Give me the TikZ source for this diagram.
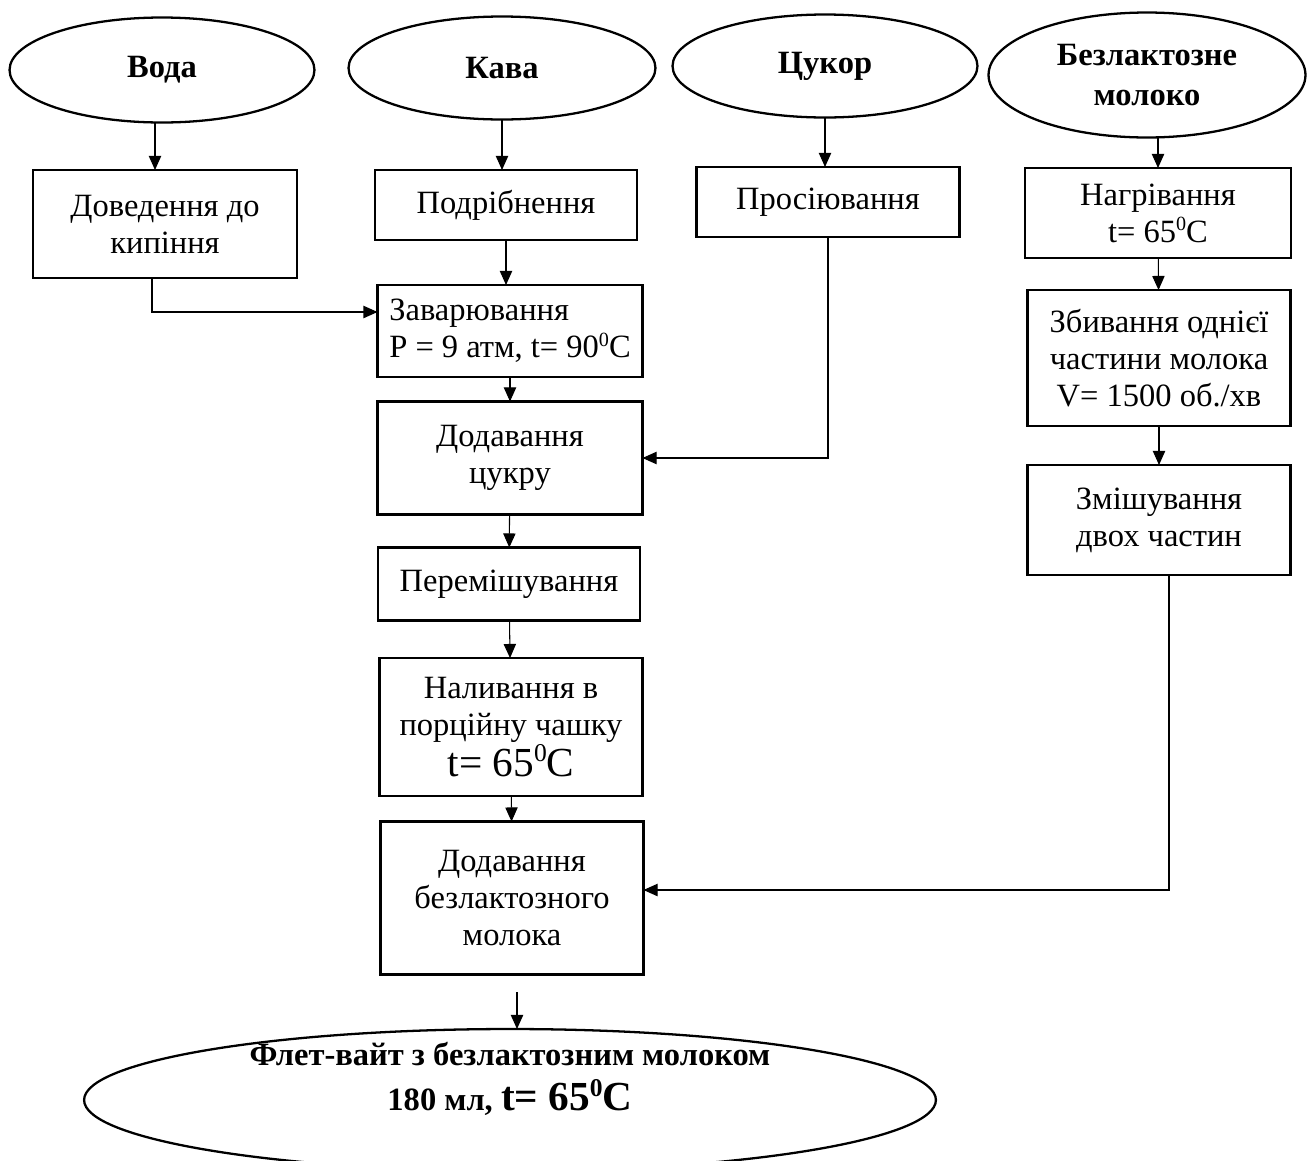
\documentclass[tikz,border=0pt]{standalone}
\usepackage{fontspec}
\setmainfont{Liberation Serif}
\usetikzlibrary{shapes.geometric,arrows.meta,calc}
\newcommand{\supz}{\raisebox{0.36em}{\scalebox{0.62}{0}}}
\newcommand{\bigt}{\fontsize{23.5}{26}\selectfont t= 65\supz C}
\begin{document}
\begin{tikzpicture}[x=0.02cm,y=-0.02cm,>={Triangle[length=8pt,width=7pt]},
box/.style = {draw, rectangle, line width=1.3pt, align=center, inner sep=0pt, outer sep=0pt, font=\fontsize{18.5}{21}\selectfont},
oval/.style = {draw, ellipse, line width=1.3pt, align=center, inner sep=0pt, outer sep=0pt, font=\fontsize{18.5}{23}\selectfont\bfseries},
link/.style = {->, line width=0.6pt},]
\useasboundingbox (0,0) rectangle (1308,1160);
\clip (0,0) rectangle (1308,1160);
\node (voda) at (162,70)[oval, minimum width=6.1cm, minimum height=2.1cm] {Вода};
\node (kava) at (502,68)[oval, minimum width=6.14cm, minimum height=2.06cm] {Кава};
\node (tsukor) at (825,66)[oval, minimum width=6.1cm, minimum height=2.06cm] {Цукор};
\node (moloko) at (1147,75)[oval, minimum width=6.34cm, minimum height=2.5cm] {Безлактозне\\молоко};
\node (dov) at (165,224)[box, minimum width=5.28cm, minimum height=2.16cm] {Доведення до\\кипіння};
\node (podr) at (506,205)[box, minimum width=5.24cm, minimum height=1.4cm] {Подрібнення};
\node (pros) at (828,202)[box, minimum width=5.26cm, minimum height=1.4cm] {Просіювання};
\node (nagr) at (1158,213)[box, minimum width=5.32cm, minimum height=1.8cm] {Нагрівання\\t= 65\supz C};
\node (zavar) at (510,331)[box, align=left, minimum width=5.3cm, minimum height=1.84cm] {Заварювання\\P = 9 атм, t= 90\supz C};
\node (dodts) at (510,458)[box, minimum width=5.3cm, minimum height=2.26cm] {Додавання\\цукру};
\node (perem) at (509,584)[box, minimum width=5.24cm, minimum height=1.46cm] {Перемішування};
\node (naliv) at (511,727)[box, minimum width=5.26cm, minimum height=2.76cm] {Наливання в\\порційну чашку\\{\bigt}};
\node (dodbez) at (512,898)[box, minimum width=5.26cm, minimum height=3.06cm] {Додавання\\безлактозного\\молока};
\node (zbyv) at (1159,358)[box, minimum width=5.26cm, minimum height=2.72cm] {Збивання однієї\\частини молока\\V= 1500 об./хв};
\node (zmish) at (1159,520)[box, minimum width=5.26cm, minimum height=2.2cm] {Змішування\\двох частин};
\node (final) at (510,1100)[oval, minimum width=17.04cm, minimum height=2.84cm,
  label={[yshift=0.42cm, align=center, font=\fontsize{18.5}{23}\selectfont\bfseries]center:Флет-вайт з безлактозним молоком\\[3pt]180 мл, {\bigt}}] {};
\draw[link] ($(voda.south)+(-7,0)$) -- ($(voda.south |- dov.north)+(-7,0)$);
\draw[link] (kava.south) -- (kava.south |- podr.north);
\draw[link] (tsukor.south) -- (tsukor.south |- pros.north);
\draw[link] (nagr.north |- moloko.south) -- (nagr.north);
\draw[link] (podr.south) -- (podr.south |- zavar.north);
\draw[link] ($(dov.south)+(-13,0)$) |- ($(zavar.west)+(0,-19)$);
\draw[link] (zavar) -- (dodts);
\draw[link] (pros.south) |- (dodts.east);
\draw[link] (dodts) -- (perem);
\draw[link] (perem) -- (naliv);
\draw[link] (naliv) -- (dodbez);
\draw[link, shorten <=10pt] ($(dodbez.south)+(5,0)$) -- ($(dodbez.south |- final.north)+(5,0)$);
\draw[link] (nagr) -- (zbyv);
\draw[link] (zbyv) -- (zmish);
\draw[link] ($(zmish.south)+(10,0)$) |- ($(dodbez.east)+(0,-8)$);
\end{tikzpicture}
\end{document}
